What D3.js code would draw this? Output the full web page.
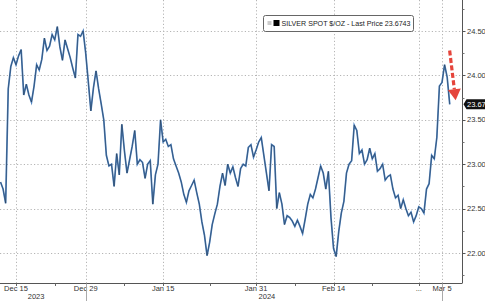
<!DOCTYPE html>
<html>
<head>
<meta charset="utf-8">
<script src="https://cdn.jsdelivr.net/npm/d3@7"></script>
<style>
  html, body { margin: 0; padding: 0; background: #fff; }
  svg { display: block; font-family: 'Liberation Sans', Arial, sans-serif; }
</style>
</head>
<body>
<script>
// silver spot, three readings per trading day, starting Dec 13 2023
const prices = [
  22.80, 22.72, 22.56, 23.85, 24.10, 24.20, 24.12, 24.22, 24.29, 23.78,
  23.90, 23.78, 23.70, 23.88, 24.12, 24.06, 24.18, 24.42, 24.28, 24.33,
  24.46, 24.40, 24.55, 24.32, 24.17, 24.40, 24.30, 24.20, 24.08, 23.97,
  24.46, 24.44, 24.50, 24.25, 23.93, 23.60, 23.86, 24.05, 23.85, 23.68,
  23.50, 23.10, 22.98, 23.00, 22.75, 23.12, 22.88, 23.45, 23.15, 22.90,
  23.05, 23.20, 23.38, 23.00, 23.05, 23.02, 22.84, 23.00, 23.04, 22.55,
  22.88, 23.00, 23.50, 23.25, 23.28, 23.20, 23.22, 23.06, 22.98, 22.90,
  22.80, 22.66, 22.57, 22.70, 22.76, 22.82, 22.68, 22.55, 22.35, 22.20,
  21.97, 22.12, 22.32, 22.44, 22.55, 22.75, 22.90, 22.76, 23.00, 22.90,
  22.97, 22.85, 22.75, 22.95, 23.00, 22.98, 23.19, 23.22, 23.08, 23.16,
  23.25, 23.30, 23.10, 22.90, 22.70, 23.22, 23.20, 22.50, 22.68, 22.55,
  22.32, 22.42, 22.40, 22.36, 22.30, 22.37, 22.30, 22.22, 22.38, 22.55,
  22.66, 22.62, 22.72, 22.85, 22.98, 22.90, 22.72, 22.92, 22.40, 22.05,
  21.96, 22.24, 22.45, 22.58, 22.90, 23.00, 23.04, 23.44, 23.38, 23.12,
  23.16, 23.00, 23.05, 23.18, 23.06, 23.12, 22.92, 22.95, 23.00, 22.82,
  22.86, 22.88, 22.72, 22.62, 22.65, 22.50, 22.60, 22.50, 22.42, 22.46,
  22.35, 22.42, 22.52, 22.50, 22.45, 22.72, 22.78, 23.10, 23.06, 23.30,
  23.88, 23.92, 24.12, 23.98, 23.6743
];
const readingsPerDay = 3;
const lastPrice = 23.6743;

// x axis: trading-day offsets from Dec 13
const tickDays = [2, 11, 21, 33, 43, 54, 57];
const tickLabels = ['Dec 15', 'Dec 29', 'Jan 15', 'Jan 31', 'Feb 14', '...', 'Mar 5'];
const minorDays = [7, 16, 27, 38, 48];
const yearDays = [11, 57];
const yearLabels = [{ label: '2023', day: 4.6 }, { label: '2024', day: 34.4 }];

// y axis
const majorTicks = [22.0, 22.5, 23.0, 23.5, 24.0, 24.5];
const minorTicks = [21.75, 22.25, 22.75, 23.25, 23.75, 24.25, 24.75];

const width = 485;
const height = 301;
const plotRight = 462;
const plotBottom = 283;

const x = d3.scaleLinear().domain([0, 57]).range([0.5, 442]);
const y = d3.scaleLinear().domain([21.662, 24.849]).range([plotBottom, 0]);

const svg = d3.select('body').append('svg')
  .attr('width', width)
  .attr('height', height);

// gridlines
svg.append('g').selectAll('line')
  .data(majorTicks)
  .enter().append('line')
    .attr('x1', 0).attr('x2', plotRight)
    .attr('y1', (d) => Math.round(y(d)) + 0.5)
    .attr('y2', (d) => Math.round(y(d)) + 0.5)
    .attr('stroke', '#b5b5b5')
    .attr('stroke-dasharray', '1.2,2.2');

svg.append('g').selectAll('line')
  .data(tickDays)
  .enter().append('line')
    .attr('x1', (d) => Math.round(x(d)) + 0.5)
    .attr('x2', (d) => Math.round(x(d)) + 0.5)
    .attr('y1', 0).attr('y2', plotBottom)
    .attr('stroke', '#b5b5b5')
    .attr('stroke-dasharray', '1.2,2.2');

// the series
const line = d3.line()
  .x((d, i) => x(i / readingsPerDay))
  .y((d) => y(d));

svg.append('path')
  .datum(prices)
  .attr('fill', 'none')
  .attr('stroke', '#4a80c0')
  .attr('stroke-width', 1.7)
  .attr('stroke-linejoin', 'miter')
  .attr('d', line);

svg.append('path')
  .datum(prices)
  .attr('fill', 'none')
  .attr('stroke', '#222a33')
  .attr('stroke-width', 0.6)
  .attr('stroke-opacity', 0.75)
  .attr('d', line);

// right axis
const yAxis = svg.append('g')
  .attr('transform', 'translate(' + (plotRight + 0.5) + ',0)');
yAxis.append('line')
  .attr('y1', 0).attr('y2', plotBottom)
  .attr('stroke', '#555');
yAxis.selectAll('.major')
  .data(majorTicks)
  .enter().append('line')
    .attr('class', 'major')
    .attr('x1', 0).attr('x2', 3)
    .attr('y1', (d) => Math.round(y(d)) + 0.5)
    .attr('y2', (d) => Math.round(y(d)) + 0.5)
    .attr('stroke', '#555');
yAxis.selectAll('.minor')
  .data(minorTicks)
  .enter().append('line')
    .attr('class', 'minor')
    .attr('x1', 0).attr('x2', 2)
    .attr('y1', (d) => Math.round(y(d)) + 0.5)
    .attr('y2', (d) => Math.round(y(d)) + 0.5)
    .attr('stroke', '#777');
yAxis.selectAll('text')
  .data(majorTicks)
  .enter().append('text')
    .attr('x', 4.5)
    .attr('y', (d) => y(d) + 2.6)
    .attr('font-size', 7.5)
    .attr('fill', '#333')
    .text((d) => d.toFixed(2));

// last price tag
const tagY = y(lastPrice);
yAxis.append('path')
  .attr('d', `M1,${tagY} L4,${tagY - 5} L30,${tagY - 5} L30,${tagY + 5} L4,${tagY + 5} Z`)
  .attr('fill', '#111');
yAxis.append('text')
  .attr('x', 4.5)
  .attr('y', tagY + 2.7)
  .attr('font-size', 7.5)
  .attr('fill', '#fff')
  .text(lastPrice.toFixed(2));

// bottom axis
const xAxis = svg.append('g')
  .attr('transform', 'translate(0,' + (plotBottom + 0.5) + ')');
xAxis.append('line')
  .attr('x1', 0).attr('x2', plotRight + 0.5)
  .attr('stroke', '#555');
xAxis.selectAll('.tick')
  .data(tickDays.concat(minorDays))
  .enter().append('line')
    .attr('x1', (d) => Math.round(x(d)) + 0.5)
    .attr('x2', (d) => Math.round(x(d)) + 0.5)
    .attr('y1', 0).attr('y2', 2.5)
    .attr('stroke', '#666');
xAxis.selectAll('.lbl')
  .data(tickDays)
  .enter().append('text')
    .attr('x', (d) => x(d))
    .attr('y', 7)
    .attr('text-anchor', 'middle')
    .attr('font-size', 7.5)
    .attr('fill', '#333')
    .text((d, i) => tickLabels[i]);
xAxis.selectAll('.sep')
  .data(yearDays)
  .enter().append('line')
    .attr('x1', (d) => Math.round(x(d)) + 0.5)
    .attr('x2', (d) => Math.round(x(d)) + 0.5)
    .attr('y1', 0).attr('y2', 18)
    .attr('stroke', '#aaa');
xAxis.selectAll('.yr')
  .data(yearLabels)
  .enter().append('text')
    .attr('x', (d) => x(d.day))
    .attr('y', 15)
    .attr('text-anchor', 'middle')
    .attr('font-size', 7.5)
    .attr('fill', '#333')
    .text((d) => d.label);

// legend
const legend = svg.append('g').attr('transform', 'translate(263.5,15.5)');
legend.append('rect')
  .attr('width', 150).attr('height', 16)
  .attr('rx', 2)
  .attr('fill', '#fff')
  .attr('stroke', '#666');
legend.append('rect')
  .attr('x', 4).attr('y', 5.5)
  .attr('width', 4).attr('height', 4)
  .attr('fill', '#ccc');
legend.append('rect')
  .attr('x', 10).attr('y', 4.5)
  .attr('width', 6).attr('height', 6)
  .attr('fill', '#000');
legend.append('text')
  .attr('x', 18)
  .attr('y', 10.8)
  .attr('font-size', 8)
  .attr('fill', '#222')
  .attr('textLength', 129)
  .attr('lengthAdjust', 'spacingAndGlyphs')
  .text('SILVER SPOT $/OZ - Last Price ' + lastPrice);

// red dashed arrow pointing at the pullback
const arrowFrom = [x(57.6) + 3, y(24.28)];
const arrowTo = [x(57.6) + 9, y(23.72)];
const dx = arrowTo[0] - arrowFrom[0];
const dy = arrowTo[1] - arrowFrom[1];
const len = Math.sqrt(dx * dx + dy * dy);
const ux = dx / len;
const uy = dy / len;
const base = [arrowTo[0] - ux * 11, arrowTo[1] - uy * 11];
svg.append('line')
  .attr('x1', arrowFrom[0]).attr('y1', arrowFrom[1])
  .attr('x2', base[0]).attr('y2', base[1])
  .attr('stroke', '#e5443b')
  .attr('stroke-width', 3.2)
  .attr('stroke-dasharray', '5,2.5');
svg.append('path')
  .attr('d', `M${arrowTo[0]},${arrowTo[1]} L${base[0] - uy * 6.5},${base[1] + ux * 6.5} L${base[0] + uy * 6.5},${base[1] - ux * 6.5} Z`)
  .attr('fill', '#e5443b');
</script>
</body>
</html>
